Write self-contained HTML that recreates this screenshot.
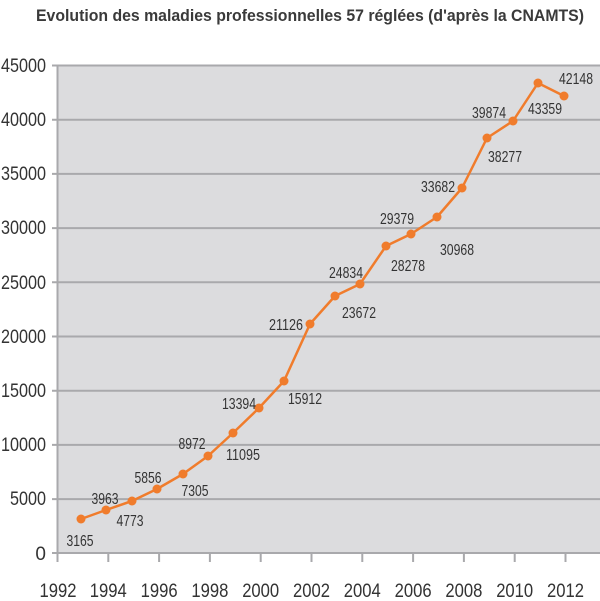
<!DOCTYPE html>
<html><head><meta charset="utf-8"><style>
html,body{margin:0;padding:0;background:#fff;}
svg{display:block;font-family:"Liberation Sans",sans-serif;}
</style></head><body>
<svg width="600" height="601" viewBox="0 0 600 601">
<text x="310" y="21" text-anchor="middle" font-size="17" font-weight="bold" fill="#3a3a3a" textLength="548" lengthAdjust="spacingAndGlyphs">Evolution des maladies professionnelles 57 réglées (d'après la CNAMTS)</text>
<rect x="57" y="65" width="543" height="488" fill="#dcdcde"/>
<g stroke="#a9a9ac" stroke-width="2">
<line x1="52" y1="65.5" x2="600" y2="65.5"/>
<line x1="52" y1="119.7" x2="600" y2="119.7"/>
<line x1="52" y1="173.9" x2="600" y2="173.9"/>
<line x1="52" y1="228.1" x2="600" y2="228.1"/>
<line x1="52" y1="282.3" x2="600" y2="282.3"/>
<line x1="52" y1="336.5" x2="600" y2="336.5"/>
<line x1="52" y1="390.7" x2="600" y2="390.7"/>
<line x1="52" y1="444.9" x2="600" y2="444.9"/>
<line x1="52" y1="499.1" x2="600" y2="499.1"/>
<line x1="52" y1="553" x2="600" y2="553"/>
<line x1="57.5" y1="65" x2="57.5" y2="562"/>
<line x1="108.3" y1="553" x2="108.3" y2="562"/>
<line x1="159.1" y1="553" x2="159.1" y2="562"/>
<line x1="209.9" y1="553" x2="209.9" y2="562"/>
<line x1="260.7" y1="553" x2="260.7" y2="562"/>
<line x1="311.5" y1="553" x2="311.5" y2="562"/>
<line x1="362.3" y1="553" x2="362.3" y2="562"/>
<line x1="413.1" y1="553" x2="413.1" y2="562"/>
<line x1="463.9" y1="553" x2="463.9" y2="562"/>
<line x1="514.7" y1="553" x2="514.7" y2="562"/>
<line x1="565.5" y1="553" x2="565.5" y2="562"/>
</g>
<g font-size="19" fill="#333" text-anchor="end">
<text x="46" y="72" textLength="45" lengthAdjust="spacingAndGlyphs">45000</text>
<text x="46" y="126" textLength="45" lengthAdjust="spacingAndGlyphs">40000</text>
<text x="46" y="180" textLength="45" lengthAdjust="spacingAndGlyphs">35000</text>
<text x="46" y="234" textLength="45" lengthAdjust="spacingAndGlyphs">30000</text>
<text x="46" y="289" textLength="45" lengthAdjust="spacingAndGlyphs">25000</text>
<text x="46" y="343" textLength="45" lengthAdjust="spacingAndGlyphs">20000</text>
<text x="46" y="397" textLength="45" lengthAdjust="spacingAndGlyphs">15000</text>
<text x="46" y="451" textLength="45" lengthAdjust="spacingAndGlyphs">10000</text>
<text x="46" y="505" textLength="36" lengthAdjust="spacingAndGlyphs">5000</text>
<text x="46" y="560">0</text>
</g>
<g font-size="19" fill="#333" text-anchor="middle">
<text x="58" y="597" textLength="37" lengthAdjust="spacingAndGlyphs">1992</text>
<text x="108.3" y="597" textLength="37" lengthAdjust="spacingAndGlyphs">1994</text>
<text x="159.1" y="597" textLength="37" lengthAdjust="spacingAndGlyphs">1996</text>
<text x="209.9" y="597" textLength="37" lengthAdjust="spacingAndGlyphs">1998</text>
<text x="260.7" y="597" textLength="37" lengthAdjust="spacingAndGlyphs">2000</text>
<text x="311.5" y="597" textLength="37" lengthAdjust="spacingAndGlyphs">2002</text>
<text x="362.3" y="597" textLength="37" lengthAdjust="spacingAndGlyphs">2004</text>
<text x="413.1" y="597" textLength="37" lengthAdjust="spacingAndGlyphs">2006</text>
<text x="463.9" y="597" textLength="37" lengthAdjust="spacingAndGlyphs">2008</text>
<text x="514.7" y="597" textLength="37" lengthAdjust="spacingAndGlyphs">2010</text>
<text x="565.5" y="597" textLength="37" lengthAdjust="spacingAndGlyphs">2012</text>
</g>
<polyline fill="none" stroke="#f07c2c" stroke-width="2.5" stroke-linejoin="round" points="81,519 106,510 132,501 157,489 183,474 208,456 233,433 259,408 284,381 310,324 335,296 360,284 386,246 411,234 437,217 462,188 487,138 513,121 538,83 564,96"/>
<g fill="#f07c2c">
<circle cx="81" cy="519" r="4.5"/><circle cx="106" cy="510" r="4.5"/><circle cx="132" cy="501" r="4.5"/><circle cx="157" cy="489" r="4.5"/><circle cx="183" cy="474" r="4.5"/><circle cx="208" cy="456" r="4.5"/><circle cx="233" cy="433" r="4.5"/><circle cx="259" cy="408" r="4.5"/><circle cx="284" cy="381" r="4.5"/><circle cx="310" cy="324" r="4.5"/><circle cx="335" cy="296" r="4.5"/><circle cx="360" cy="284" r="4.5"/><circle cx="386" cy="246" r="4.5"/><circle cx="411" cy="234" r="4.5"/><circle cx="437" cy="217" r="4.5"/><circle cx="462" cy="188" r="4.5"/><circle cx="487" cy="138" r="4.5"/><circle cx="513" cy="121" r="4.5"/><circle cx="538" cy="83" r="4.5"/><circle cx="564" cy="96" r="4.5"/>
</g>
<g font-size="15.5" fill="#333" text-anchor="middle">
<text x="80" y="546" textLength="27" lengthAdjust="spacingAndGlyphs">3165</text>
<text x="105" y="504" textLength="27" lengthAdjust="spacingAndGlyphs">3963</text>
<text x="130" y="526" textLength="27" lengthAdjust="spacingAndGlyphs">4773</text>
<text x="148" y="483" textLength="27" lengthAdjust="spacingAndGlyphs">5856</text>
<text x="195" y="496" textLength="27" lengthAdjust="spacingAndGlyphs">7305</text>
<text x="192" y="449" textLength="27" lengthAdjust="spacingAndGlyphs">8972</text>
<text x="243" y="460" textLength="34" lengthAdjust="spacingAndGlyphs">11095</text>
<text x="239" y="409" textLength="34" lengthAdjust="spacingAndGlyphs">13394</text>
<text x="305" y="404" textLength="34" lengthAdjust="spacingAndGlyphs">15912</text>
<text x="286" y="330" textLength="34" lengthAdjust="spacingAndGlyphs">21126</text>
<text x="359" y="318" textLength="34" lengthAdjust="spacingAndGlyphs">23672</text>
<text x="346" y="278" textLength="34" lengthAdjust="spacingAndGlyphs">24834</text>
<text x="408" y="271" textLength="34" lengthAdjust="spacingAndGlyphs">28278</text>
<text x="397" y="224" textLength="34" lengthAdjust="spacingAndGlyphs">29379</text>
<text x="457" y="255" textLength="34" lengthAdjust="spacingAndGlyphs">30968</text>
<text x="438" y="192" textLength="34" lengthAdjust="spacingAndGlyphs">33682</text>
<text x="505" y="162" textLength="34" lengthAdjust="spacingAndGlyphs">38277</text>
<text x="489" y="118" textLength="34" lengthAdjust="spacingAndGlyphs">39874</text>
<text x="545" y="114" textLength="34" lengthAdjust="spacingAndGlyphs">43359</text>
<text x="576" y="84" textLength="34" lengthAdjust="spacingAndGlyphs">42148</text>
</g>
</svg>
</body></html>
